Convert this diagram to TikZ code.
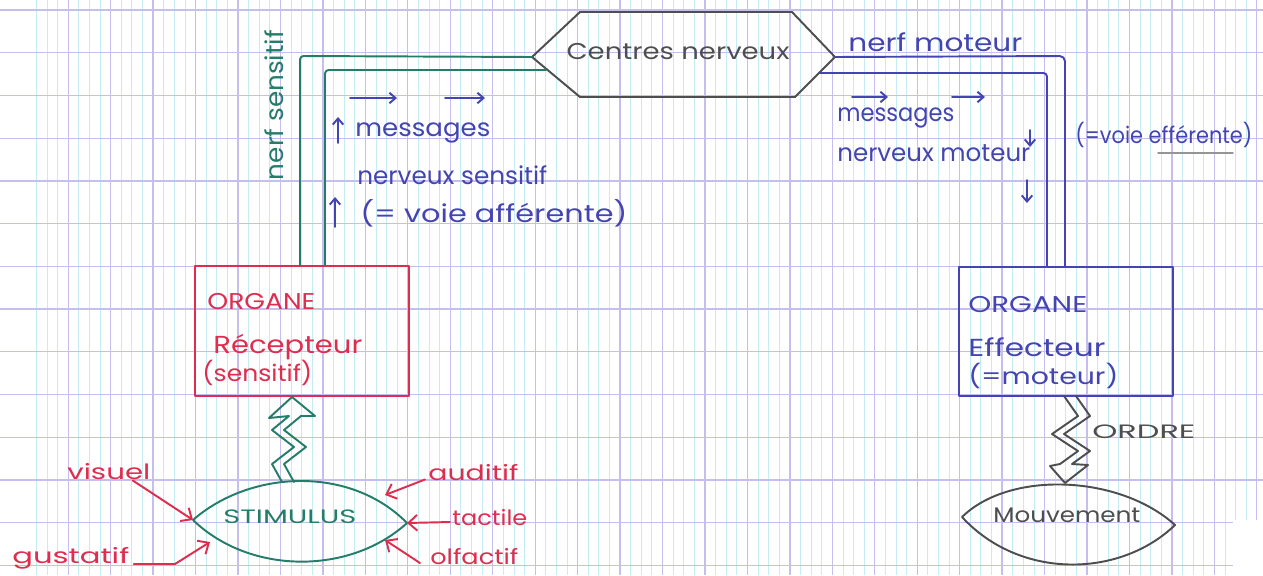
\documentclass[tikz,border=0pt]{standalone}
\usepackage{fontspec}
\setmainfont{Poppins}
\usetikzlibrary{arrows.meta}
\definecolor{gridP}{RGB}{198,190,238}
\definecolor{gridC}{RGB}{196,236,242}
\definecolor{penG}{RGB}{35,125,105}
\definecolor{penR}{RGB}{222,45,78}
\definecolor{penB}{RGB}{68,68,178}
\definecolor{penK}{RGB}{78,78,78}
\newlength\pxu
\setlength\pxu{0.02cm}
\newcommand\fw[2]{\resizebox{#1}{\height}{#2}}
\tikzset{
  lbl/.style={inner sep=0pt, anchor=west, font=\fontsize{#1}{#1}\selectfont},
  lbl/.default=13,
  ink/.style={line width=1.1pt, line cap=round, line join=round},
  barb/.style={-{Straight Barb[length=5pt,width=9pt]}},
  sbarb/.style={-{Straight Barb[length=3.5pt,width=6pt]}},
}
\begin{document}
\begin{tikzpicture}[x=0.02cm,y=-0.02cm]
\useasboundingbox (0,0) rectangle (1263,575);
\fill[white] (0,0) rectangle (1263,575);
% grid paper
\foreach \i in {0,...,115} \draw[gridC, line width=0.45pt] ({36.35+10.6125*\i},0) -- ({36.35+10.6125*\i},575);
\foreach \i in {0,...,28} \draw[gridP, line width=0.75pt] ({68.2+42.45*\i},0) -- ({68.2+42.45*\i},575);
\foreach \k in {0,...,13} \draw[gridP, line width=0.75pt] (0,{10+42.72*\k}) -- (1263,{10+42.72*\k});
\fill[white] (1233,520) rectangle (1263,575);

% centres nerveux (hexagon)
\coordinate (hW) at (532,57);
\coordinate (hNW) at (580,12);
\coordinate (hNE) at (792,12);
\coordinate (hE) at (835,57);
\coordinate (hSE) at (795,97);
\coordinate (hSW) at (580,97);
\coordinate (hWi) at (546,70);
\coordinate (hEi) at (819,73);
\draw[ink,penK] (hW) -- (hNW) -- (hNE) -- (hE) -- (hSE) -- (hSW) -- cycle;
\node[lbl=13,penK,anchor=center] (cn) at (678,52) {\fw{223\pxu}{Centres nerveux}};

% organs
\node[draw=penR, ink, minimum width=214\pxu, minimum height=130\pxu, inner sep=0pt, anchor=north west] (rec) at (194,265) {};
\node[draw=penB, ink, minimum width=214\pxu, minimum height=129\pxu, inner sep=0pt, anchor=north west] (eff) at (958,266) {};

\node[lbl=13,penR] (r1) at (207,302) {\fw{108\pxu}{ORGANE}};
\node[lbl=14,penR] (r2) at (213,347) {\fw{149\pxu}{Récepteur}};
\node[lbl=13,penR] (r3) at (202,373) {\fw{110\pxu}{(sensitif)}};
\node[lbl=13,penB] (e1) at (968,305) {\fw{119\pxu}{ORGANE}};
\node[lbl=14,penB] (e2) at (968,347) {\fw{137\pxu}{Effecteur}};
\node[lbl=13,penB] (e3) at (968,376) {\fw{150\pxu}{(=moteur)}};

% nerf sensitif
\coordinate (gO) at (300,56);
\coordinate (gI) at (325,70);
\draw[ink,penG,rounded corners=2pt] (hW) -- (gO) -- (gO |- rec.north);
\draw[ink,penG,rounded corners=2pt] (hWi) -- (gI) -- (gI |- rec.north);
\node[lbl=14,penG,anchor=center,rotate=90] (ns) at (274,105) {\fw{150\pxu}{nerf sensitif}};

% nerf moteur
\coordinate (bO) at (1065,56);
\coordinate (bI) at (1047,73);
\draw[ink,penB,rounded corners=3pt] (hE) -- (bO) -- (bO |- eff.north);
\draw[ink,penB,rounded corners=2pt] (hEi) -- (bI) -- (bI |- eff.north);
\node[lbl=14,penB] (nm) at (848,42) {\fw{174\pxu}{nerf moteur}};

% messages sensitifs
\draw[ink,penB,sbarb] (350,98) -- (397,98);
\draw[ink,penB,sbarb] (445,98) -- (485,98);
\draw[ink,penB,sbarb] (338,143) -- (338,117);
\draw[ink,penB,sbarb] (335,227) -- (335,197);
\node[lbl=14,penB] (m1) at (355,133) {\fw{135\pxu}{messages}};
\node[lbl=14,penB] (m2) at (357,175) {\fw{190\pxu}{nerveux sensitif}};
\node[lbl=14,penB] (m3) at (360,213) {\fw{267\pxu}{(= voie afférente)}};

% messages moteurs
\draw[ink,penB,sbarb] (852,97) -- (888,97);
\draw[ink,penB,sbarb] (952,97) -- (985,97);
\draw[ink,penB,sbarb] (1030,130) -- (1030,147);
\draw[ink,penB,sbarb] (1027,180) -- (1027,203);
\node[lbl=14,penB] (n1) at (837,118) {\fw{117\pxu}{messages}};
\node[lbl=14,penB] (n2) at (837,153) {\fw{193\pxu}{nerveux moteur}};
\node[lbl=13,penB] (n3) at (1075,135) {\fw{177\pxu}{(=voie efférente)}};
\draw[penK!60, line width=0.8pt, line cap=round] (1158,153) -- (1233,153);

% stimulus
\coordinate (sL) at (193,520);
\coordinate (sR) at (407,523);
\coordinate (sGu) at (210,542);
\coordinate (sAu) at (385,495);
\coordinate (sOl) at (385,540);
\draw[ink,penG] (sL) .. controls (250,470) and (350,465) .. (sR) .. controls (350,575) and (250,575) .. (sL);
\node[lbl=11,penG] (stim) at (223,517) {\fw{133\pxu}{STIMULUS}};

% green zigzag arrow
\draw[ink,penG] (282,482) -- (272,464) -- (294,447) -- (272,430) -- (289,416) -- (269,418) -- (292,397) -- (315,416) -- (301,416) -- (284,430) -- (306,447) -- (284,464) -- (294,482);

% senses
\node[lbl=12,penR] (vis) at (67,472) {\fw{83\pxu}{visuel}};
\node[lbl=12,penR] (gus) at (12,558) {\fw{117\pxu}{gustatif}};
\node[lbl=12,penR] (aud) at (428,473) {\fw{90\pxu}{auditif}};
\node[lbl=12,penR] (tac) at (452,518) {\fw{75\pxu}{tactile}};
\node[lbl=12,penR] (olf) at (430,557) {\fw{88\pxu}{olfactif}};
\draw[ink,penR,barb] (vis.south east) ++(-18,0) -- (sL);
\draw[ink,penR,barb] (gus.east) ++(4,6) -- (175,564) -- (sGu);
\draw[ink,penR,barb] (aud.south west) ++(-3,-2) -- (sAu);
\draw[ink,penR,barb] (tac.west) ++(-2,4) -- (sR);
\draw[ink,penR,barb] (olf.west) ++(-10,6) -- (sOl);

% ordre zigzag and mouvement
\draw[ink,penK] (1064,396) -- (1078,416) -- (1052,434) -- (1078,451) -- (1060,464) -- (1050,466) -- (1065,483) -- (1088,465) -- (1072,464) -- (1090,451) -- (1064,434) -- (1090,416) -- (1076,396);
\node[lbl=11,penK] (ord) at (1092,432) {\fw{103\pxu}{ORDRE}};
\coordinate (mL) at (962,517);
\coordinate (mR) at (1175,525);
\draw[ink,penK] (mL) .. controls (1010,470) and (1120,475) .. (mR) .. controls (1120,578) and (1020,580) .. (mL);
\node[lbl=12,penK] (mv) at (993,515) {\fw{147\pxu}{Mouvement}};
\end{tikzpicture}
\end{document}
